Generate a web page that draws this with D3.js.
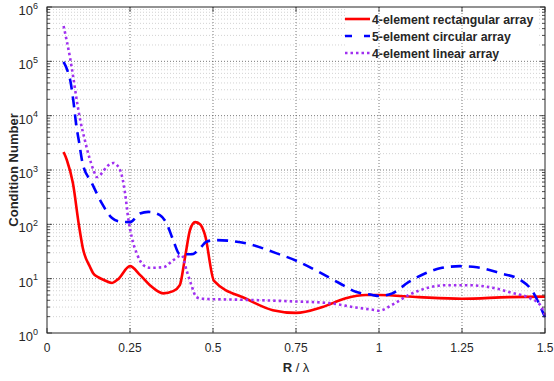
<!DOCTYPE html>
<html>
<head>
<meta charset="utf-8">
<script src="https://cdn.jsdelivr.net/npm/d3@7"></script>
<style>
  body { margin: 0; background: #fff; }
  svg { font-family: "Liberation Sans", Arial, sans-serif; }
</style>
</head>
<body>
<div id="chart"></div>
<script>
// x = R / lambda, values = log10 of condition number
const rectX = [0.05, 0.06, 0.078, 0.096, 0.108, 0.13, 0.139, 0.154, 0.17, 0.196, 0.214, 0.25, 0.28, 0.31, 0.35, 0.38, 0.40, 0.416, 0.431, 0.446, 0.461, 0.476, 0.503, 0.60, 0.68, 0.75, 0.83, 0.90, 0.96, 1.0, 1.12, 1.25, 1.39, 1.5];
const rectLog = [3.33, 3.18, 2.76, 1.99, 1.56, 1.21, 1.10, 1.03, 0.98, 0.92, 0.99, 1.23, 1.07, 0.88, 0.73, 0.77, 0.88, 1.40, 1.90, 2.04, 2.0, 1.80, 0.96, 0.63, 0.42, 0.37, 0.48, 0.64, 0.70, 0.70, 0.66, 0.63, 0.66, 0.67];

const circX = [0.05, 0.061, 0.071, 0.079, 0.089, 0.097, 0.107, 0.135, 0.165, 0.195, 0.22, 0.25, 0.28, 0.305, 0.34, 0.36, 0.38, 0.40, 0.436, 0.461, 0.48, 0.506, 0.60, 0.69, 0.755, 0.82, 0.88, 0.93, 0.98, 1.0, 1.04, 1.09, 1.14, 1.19, 1.244, 1.295, 1.365, 1.425, 1.46, 1.5];
const circLog = [4.99, 4.84, 4.62, 4.29, 3.79, 3.50, 3.13, 2.76, 2.39, 2.12, 2.05, 2.04, 2.20, 2.23, 2.17, 2.02, 1.71, 1.45, 1.45, 1.56, 1.68, 1.71, 1.65, 1.47, 1.32, 1.12, 0.92, 0.76, 0.70, 0.68, 0.73, 0.94, 1.10, 1.20, 1.23, 1.21, 1.10, 0.98, 0.79, 0.29];

const linX = [0.05, 0.059, 0.069, 0.079, 0.091, 0.10, 0.114, 0.127, 0.14, 0.15, 0.165, 0.18, 0.20, 0.22, 0.235, 0.244, 0.255, 0.27, 0.29, 0.31, 0.35, 0.38, 0.406, 0.42, 0.435, 0.45, 0.467, 0.60, 0.75, 0.85, 0.93, 0.99, 1.0, 1.04, 1.09, 1.145, 1.205, 1.265, 1.345, 1.40, 1.455, 1.485, 1.5];
const linLog = [5.65, 5.39, 5.08, 4.71, 4.23, 3.92, 3.55, 3.24, 3.0, 2.87, 2.94, 3.06, 3.13, 3.0, 2.58, 2.14, 1.77, 1.47, 1.25, 1.2, 1.21, 1.34, 1.43, 1.16, 0.88, 0.66, 0.63, 0.61, 0.58, 0.55, 0.47, 0.42, 0.41, 0.52, 0.70, 0.83, 0.88, 0.88, 0.83, 0.74, 0.64, 0.52, 0.33];

const seriesNames = ['4-element rectangular array', '5-element circular array', '4-element linear array'];
const xTicks = [0, 0.25, 0.5, 0.75, 1, 1.25, 1.5];
const xTickLabels = ['0', '0.25', '0.5', '0.75', '1', '1.25', '1.5'];
const yExponents = [0, 1, 2, 3, 4, 5, 6];

const W = 554, H = 381;
const margin = { left: 47, right: 9, top: 7, bottom: 48 };
const iw = W - margin.left - margin.right;
const ih = H - margin.top - margin.bottom;

const svg = d3.select('#chart').append('svg')
  .attr('width', W).attr('height', H);

const x = d3.scaleLinear().domain([0, 1.5]).range([0, iw]);
const y = d3.scaleLog().domain([1, 1e6]).range([ih, 0]);

const g = svg.append('g').attr('transform', `translate(${margin.left},${margin.top})`);

// minor values for log axis
const minorVals = [];
yExponents.slice(0, -1).forEach(e => {
  for (let k = 2; k <= 9; k++) minorVals.push(k * Math.pow(10, e));
});

// grid
g.append('g').selectAll('line').data(minorVals).enter().append('line')
  .attr('x1', 0).attr('x2', iw)
  .attr('y1', d => y(d)).attr('y2', d => y(d))
  .attr('stroke', '#c8c8c8').attr('stroke-width', 0.8)
  .attr('stroke-dasharray', '1,2');

g.append('g').selectAll('line').data(yExponents.slice(1, -1)).enter().append('line')
  .attr('x1', 0).attr('x2', iw)
  .attr('y1', d => y(Math.pow(10, d))).attr('y2', d => y(Math.pow(10, d)))
  .attr('stroke', '#555').attr('stroke-width', 0.8)
  .attr('stroke-dasharray', '1,2');

// legend background hides the minor grid
const legX = 298, legY = 2;
g.append('rect')
  .attr('x', legX).attr('y', legY)
  .attr('width', 193).attr('height', 50)
  .attr('fill', '#fff');

g.append('g').selectAll('line').data(xTicks.slice(1, -1)).enter().append('line')
  .attr('x1', d => x(d)).attr('x2', d => x(d))
  .attr('y1', 0).attr('y2', ih)
  .attr('stroke', '#555').attr('stroke-width', 0.8)
  .attr('stroke-dasharray', '1,2');

// series
const series = [
  { xs: rectX, ls: rectLog, color: '#ff0000', dash: null },
  { xs: circX, ls: circLog, color: '#0000ff', dash: '11,7' },
  { xs: linX, ls: linLog, color: '#a030f0', dash: '2.5,3' }
];

const line = d3.line()
  .x(d => x(d[0]))
  .y(d => y(Math.pow(10, d[1])))
  .curve(d3.curveMonotoneX);

series.forEach(s => {
  g.append('path')
    .datum(s.xs.map((v, i) => [v, s.ls[i]]))
    .attr('d', line)
    .attr('fill', 'none')
    .attr('stroke', s.color)
    .attr('stroke-width', 2.6)
    .attr('stroke-dasharray', s.dash);
});

// box and ticks
g.append('rect').attr('width', iw).attr('height', ih)
  .attr('fill', 'none').attr('stroke', '#262626').attr('stroke-width', 1);

const ticks = g.append('g').attr('stroke', '#262626').attr('stroke-width', 0.8);
xTicks.forEach(t => {
  ticks.append('line').attr('x1', x(t)).attr('x2', x(t)).attr('y1', ih).attr('y2', ih - 5);
  ticks.append('line').attr('x1', x(t)).attr('x2', x(t)).attr('y1', 0).attr('y2', 5);
});
yExponents.forEach(e => {
  const yy = y(Math.pow(10, e));
  ticks.append('line').attr('x1', 0).attr('x2', 5).attr('y1', yy).attr('y2', yy);
  ticks.append('line').attr('x1', iw).attr('x2', iw - 5).attr('y1', yy).attr('y2', yy);
});
minorVals.forEach(v => {
  const yy = y(v);
  ticks.append('line').attr('x1', 0).attr('x2', 3).attr('y1', yy).attr('y2', yy);
  ticks.append('line').attr('x1', iw).attr('x2', iw - 3).attr('y1', yy).attr('y2', yy);
});

// tick labels
g.append('g').selectAll('text').data(xTicks).enter().append('text')
  .attr('x', d => x(d)).attr('y', ih + 19)
  .attr('text-anchor', 'middle')
  .attr('font-size', 12).attr('fill', '#262626')
  .text((d, i) => xTickLabels[i]);

yExponents.forEach(e => {
  const t = g.append('text')
    .attr('x', -9).attr('y', y(Math.pow(10, e)) + 8)
    .attr('text-anchor', 'end')
    .attr('font-size', 13).attr('fill', '#262626');
  t.append('tspan').text('10');
  t.append('tspan').attr('dy', -6.5).attr('font-size', 9).text(String(e));
});

// axis labels
const xl = svg.append('text')
  .attr('x', margin.left + iw / 2).attr('y', 372)
  .attr('text-anchor', 'middle')
  .attr('font-size', 13).attr('fill', '#262626');
xl.append('tspan').attr('font-weight', 'bold').text('R');
xl.append('tspan').text(' / λ');

svg.append('text')
  .attr('transform', `translate(18,${margin.top + ih / 2}) rotate(-90)`)
  .attr('text-anchor', 'middle')
  .attr('font-size', 13).attr('font-weight', 'bold').attr('fill', '#262626')
  .text('Condition Number');

// legend
const leg = g.append('g').attr('transform', `translate(${legX},${legY})`);
series.forEach((s, i) => {
  const ly = 10 + i * 17;
  leg.append('line')
    .attr('x1', 0).attr('x2', 25).attr('y1', ly).attr('y2', ly)
    .attr('stroke', s.color).attr('stroke-width', 2.6)
    .attr('stroke-dasharray', s.dash === '11,7' ? '7,12' : s.dash);
  leg.append('text')
    .attr('x', 27).attr('y', ly + 4.5)
    .attr('font-size', 12.3).attr('font-weight', 'bold').attr('fill', '#262626')
    .text(seriesNames[i]);
});
</script>
</body>
</html>
